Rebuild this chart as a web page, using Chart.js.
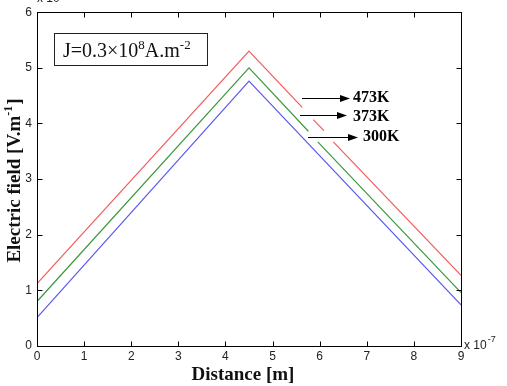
<!DOCTYPE html>
<html>
<head>
<meta charset="utf-8">
<script src="https://cdn.jsdelivr.net/npm/chart.js@4/dist/chart.umd.min.js"></script>
<style>
html,body{margin:0;padding:0;background:#fff;}
#wrap{width:507px;height:386px;position:relative;}
</style>
</head>
<body>
<div id="wrap"><canvas id="c" width="507" height="386"></canvas></div>
<script>
// Distance (x 10^-7 m) and electric field values (x 10^? V/m), null = gap in the drawn line
const redX   = [0, 4.5, 5.63, 5.75, 5.865, 6.09, 6.19, 6.29, 9];
const redY   = [1.12, 5.30, 4.29, null, 4.07, 3.87, null, 3.67, 1.27];
const greenX = [0, 4.5, 5.76, 5.86, 5.96, 9];
const greenY = [0.80, 5.00, 3.86, null, 3.67, 0.96];
const blueX  = [0, 4.5, 9];
const blueY  = [0.51, 4.76, 0.74];
const seriesLabels = ['473K', '373K', '300K'];
const xTicks = [0, 1, 2, 3, 4, 5, 6, 7, 8, 9];
const yTicks = [0, 1, 2, 3, 4, 5, 6];

function pts(xs, ys) { return xs.map((x, i) => ({x: x, y: ys[i]})); }

const serif = '"Liberation Serif", "Times New Roman", serif';
const sans = '"Liberation Sans", Arial, sans-serif';

const decor = {
  id: 'decor',
  beforeDraw(chart) {
    const ctx = chart.ctx;
    ctx.save();
    ctx.fillStyle = '#fff';
    ctx.fillRect(0, 0, chart.width, chart.height);
    ctx.restore();
  },
  afterDraw(chart) {
    const ctx = chart.ctx;
    const a = chart.chartArea;
    const xs = chart.scales.x, ys = chart.scales.y;
    ctx.save();
    // box
    ctx.strokeStyle = '#000';
    ctx.lineWidth = 1;
    const L = Math.round(a.left) + 0.5, R = Math.round(a.right) + 0.5;
    const T = Math.round(a.top) + 0.5, B = Math.round(a.bottom) + 0.5;
    ctx.strokeRect(L, T, R - L, B - T);
    // inward ticks
    const tl = 5;
    ctx.beginPath();
    xTicks.forEach(v => {
      const px = Math.round(xs.getPixelForValue(v)) + 0.5;
      ctx.moveTo(px, B); ctx.lineTo(px, B - tl);
      ctx.moveTo(px, T); ctx.lineTo(px, T + tl);
    });
    yTicks.forEach(v => {
      const py = Math.round(ys.getPixelForValue(v)) + 0.5;
      ctx.moveTo(L, py); ctx.lineTo(L + tl, py);
      ctx.moveTo(R, py); ctx.lineTo(R - tl, py);
    });
    ctx.stroke();

    // exponent labels
    ctx.fillStyle = '#222';
    ctx.font = '12px ' + sans;
    ctx.textBaseline = 'alphabetic';
    ctx.textAlign = 'left';
    ctx.fillText('x 10', a.left, a.top - 10);
    ctx.fillText('x 10', a.right + 3, a.bottom + 3);
    const w10 = ctx.measureText('x 10').width;
    ctx.font = '9px ' + sans;
    ctx.fillText('-7', a.right + 3 + w10 + 1, a.bottom - 4);

    // axis titles
    ctx.fillStyle = '#111';
    ctx.font = 'bold 19px ' + serif;
    ctx.textAlign = 'center';
    ctx.fillText('Distance [m]', (a.left + a.right) / 2 - 6, 380);

    // y title rotated with superscript
    ctx.save();
    ctx.translate(20, 181);
    ctx.rotate(-Math.PI / 2);
    ctx.textAlign = 'left';
    const p1 = 'Electric field [V.m', p2 = '-1', p3 = ']';
    ctx.font = 'bold 19px ' + serif;
    const w1 = ctx.measureText(p1).width, w3 = ctx.measureText(p3).width;
    ctx.font = 'bold 12px ' + serif;
    const w2 = ctx.measureText(p2).width;
    let sx = -(w1 + w2 + w3) / 2;
    ctx.font = 'bold 19px ' + serif;
    ctx.fillText(p1, sx, 0);
    ctx.font = 'bold 12px ' + serif;
    ctx.fillText(p2, sx + w1, -8);
    ctx.font = 'bold 19px ' + serif;
    ctx.fillText(p3, sx + w1 + w2 + 1, 0);
    ctx.restore();

    // J annotation box
    ctx.strokeStyle = '#222';
    ctx.strokeRect(54.5, 33.5, 153, 32);
    ctx.fillStyle = '#111';
    ctx.textAlign = 'left';
    let bx = 63;
    const by = 57;
    const seg = [['J=0.3\u00d710', 20, 0], ['8', 13, -8], ['A.m', 20, 0], ['-2', 13, -8]];
    seg.forEach(s => {
      ctx.font = s[1] + 'px ' + serif;
      ctx.fillText(s[0], bx, by + s[2]);
      bx += ctx.measureText(s[0]).width;
    });

    // arrows with temperature labels
    const arrows = [
      {x0: 302, x1: 350, y: 98, tx: 353, ty: 102, label: seriesLabels[0]},
      {x0: 300, x1: 347, y: 115, tx: 353, ty: 121, label: seriesLabels[1]},
      {x0: 308, x1: 358, y: 137, tx: 363, ty: 141, label: seriesLabels[2]}
    ];
    ctx.strokeStyle = '#000';
    ctx.fillStyle = '#000';
    arrows.forEach(ar => {
      ctx.beginPath();
      ctx.moveTo(ar.x0, ar.y + 0.5);
      ctx.lineTo(ar.x1 - 8, ar.y + 0.5);
      ctx.stroke();
      ctx.beginPath();
      ctx.moveTo(ar.x1, ar.y + 0.5);
      ctx.lineTo(ar.x1 - 10, ar.y - 3);
      ctx.lineTo(ar.x1 - 10, ar.y + 4);
      ctx.closePath();
      ctx.fill();
      ctx.font = 'bold 16px ' + serif;
      ctx.fillText(ar.label, ar.tx, ar.ty);
    });
    ctx.restore();
  }
};

new Chart(document.getElementById('c'), {
  type: 'line',
  data: {
    datasets: [
      {label: seriesLabels[0], data: pts(redX, redY), borderColor: '#f25c5c', borderWidth: 1.2},
      {label: seriesLabels[1], data: pts(greenX, greenY), borderColor: '#3b9a3b', borderWidth: 1.2},
      {label: seriesLabels[2], data: pts(blueX, blueY), borderColor: '#5a5af0', borderWidth: 1.2}
    ]
  },
  options: {
    responsive: false,
    animation: false,
    spanGaps: false,
    elements: {point: {radius: 0}, line: {tension: 0}},
    layout: {padding: {top: 12, right: 46, left: 0, bottom: 0}},
    plugins: {legend: {display: false}, tooltip: {enabled: false}},
    scales: {
      x: {
        type: 'linear', min: 0, max: 9,
        afterBuildTicks: s => { s.ticks = xTicks.map(v => ({value: v})); },
        afterFit: s => { s.height = 40; },
        grid: {display: false, drawTicks: false},
        border: {display: false},
        ticks: {padding: 3, color: '#222', font: {family: sans, size: 12}, maxRotation: 0}
      },
      y: {
        type: 'linear', min: 0, max: 6,
        afterBuildTicks: s => { s.ticks = yTicks.map(v => ({value: v})); },
        afterFit: s => { s.width = 37; },
        grid: {display: false, drawTicks: false},
        border: {display: false},
        ticks: {padding: 5, color: '#222', font: {family: sans, size: 12}}
      }
    }
  },
  plugins: [decor]
});
</script>
</body>
</html>
